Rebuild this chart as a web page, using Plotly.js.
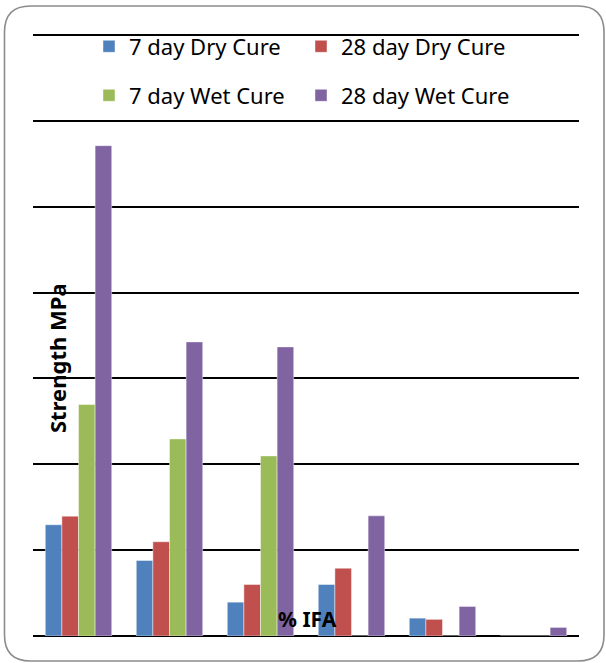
<!DOCTYPE html>
<html>
<head>
<meta charset="utf-8">
<script src="https://cdn.plot.ly/plotly-3.0.1.min.js"></script>
<style>html,body{margin:0;padding:0;background:#fff}#chart{width:606px;height:663px}</style>
</head>
<body>
<div id="chart"></div>
<script>
// ---- data ----
var categories = ['0%', '10%', '20%', '30%', '40%', '50%'];
var dry7  = [6.48, 4.40, 1.97, 3.00, 1.04, 0];
var dry28 = [6.98, 5.49, 3.00, 3.95, 0.97, 0];
var wet7  = [13.48, 11.48, 10.49, 0, 0, 0];
var wet28 = [28.56, 17.13, 16.84, 7.00, 1.72, 0.50];
var seriesNames = ['7 day Dry Cure', '28 day Dry Cure', '7 day Wet Cure', '28 day Wet Cure'];
var seriesColors = ['#4F81BD', '#C0504D', '#9BBB59', '#8064A2'];
var yTitle = 'Strength MPa';
var xTitle = '% IFA';

// ---- layout helpers ----
var W = 606, H = 663, ML = 33, MR = 27, MT = 26, MB = 27;
var PW = W - ML - MR, PH = H - MT - MB;
function px(x) { return (x - ML) / PW; }
function py(y) { return (H - MB - y) / PH; }

function roundRectPath(x0, y0, x1, y1, r) {
  function P(x, y) { return px(x).toFixed(5) + ',' + py(y).toFixed(5); }
  return 'M' + P(x0 + r, y0) +
    ' L' + P(x1 - r, y0) + ' Q' + P(x1, y0) + ' ' + P(x1, y0 + r) +
    ' L' + P(x1, y1 - r) + ' Q' + P(x1, y1) + ' ' + P(x1 - r, y1) +
    ' L' + P(x0 + r, y1) + ' Q' + P(x0, y1) + ' ' + P(x0, y1 - r) +
    ' L' + P(x0, y0 + r) + ' Q' + P(x0, y0) + ' ' + P(x0 + r, y0) + ' Z';
}

var allSeries = [dry7, dry28, wet7, wet28];
var legendIds = ['legend', 'legend', 'legend2', 'legend2'];
var traces = allSeries.map(function (vals, i) {
  return {
    type: 'bar',
    name: seriesNames[i],
    x: categories,
    y: vals,
    legend: legendIds[i],
    marker: { color: seriesColors[i], line: { color: 'rgba(255,255,255,0.55)', width: 0.8 } },
    hoverinfo: 'x+y+name'
  };
});

var legendCommon = {
  orientation: 'h',
  xref: 'paper', yref: 'paper',
  x: px(89), xanchor: 'left',
  yanchor: 'middle',
  entrywidth: 167, entrywidthmode: 'pixels',
  bgcolor: 'rgba(0,0,0,0)',
  font: { family: 'Noto Sans, sans-serif', size: 22, color: '#000' }
};

var layout = {
  width: W, height: H,
  margin: { l: ML, r: MR, t: MT, b: MB, pad: 0 },
  paper_bgcolor: '#fff',
  plot_bgcolor: 'rgba(0,0,0,0)',
  font: { family: 'Noto Sans, sans-serif', color: '#000' },
  barmode: 'group',
  bargap: 0.27,
  bargroupgap: 0,
  showlegend: true,
  legend: Object.assign({}, legendCommon, { y: py(46.5) }),
  legend2: Object.assign({}, legendCommon, { y: py(95.5) }),
  xaxis: {
    type: 'category',
    showticklabels: false, ticks: '', showgrid: false, zeroline: false, showline: false,
    fixedrange: true
  },
  yaxis: {
    range: [0, 35.53], tick0: 0, dtick: 5,
    showticklabels: false, ticks: '',
    showgrid: true, gridcolor: '#000', gridwidth: 1.6,
    zeroline: true, zerolinecolor: '#000', zerolinewidth: 2,
    showline: false, fixedrange: true
  },
  annotations: [
    {
      text: yTitle, xref: 'paper', yref: 'paper',
      x: px(57), y: py(358), xanchor: 'center', yanchor: 'middle',
      textangle: -90, showarrow: false,
      font: { family: 'Noto Sans, sans-serif', size: 22, color: '#000', weight: 'bold' }
    },
    {
      text: xTitle, xref: 'paper', yref: 'paper',
      x: px(307), y: py(619), xanchor: 'center', yanchor: 'middle',
      showarrow: false,
      font: { family: 'Noto Sans, sans-serif', size: 21, color: '#000', weight: 'bold' }
    }
  ],
  shapes: [
    {
      type: 'path', xref: 'paper', yref: 'paper', layer: 'below',
      path: roundRectPath(4.5, 6, 604, 661, 26),
      line: { color: '#8c8c8c', width: 1.6 },
      fillcolor: 'rgba(0,0,0,0)'
    }
  ]
};

Plotly.newPlot('chart', traces, layout, { displayModeBar: false, staticPlot: false });
</script>
</body>
</html>
